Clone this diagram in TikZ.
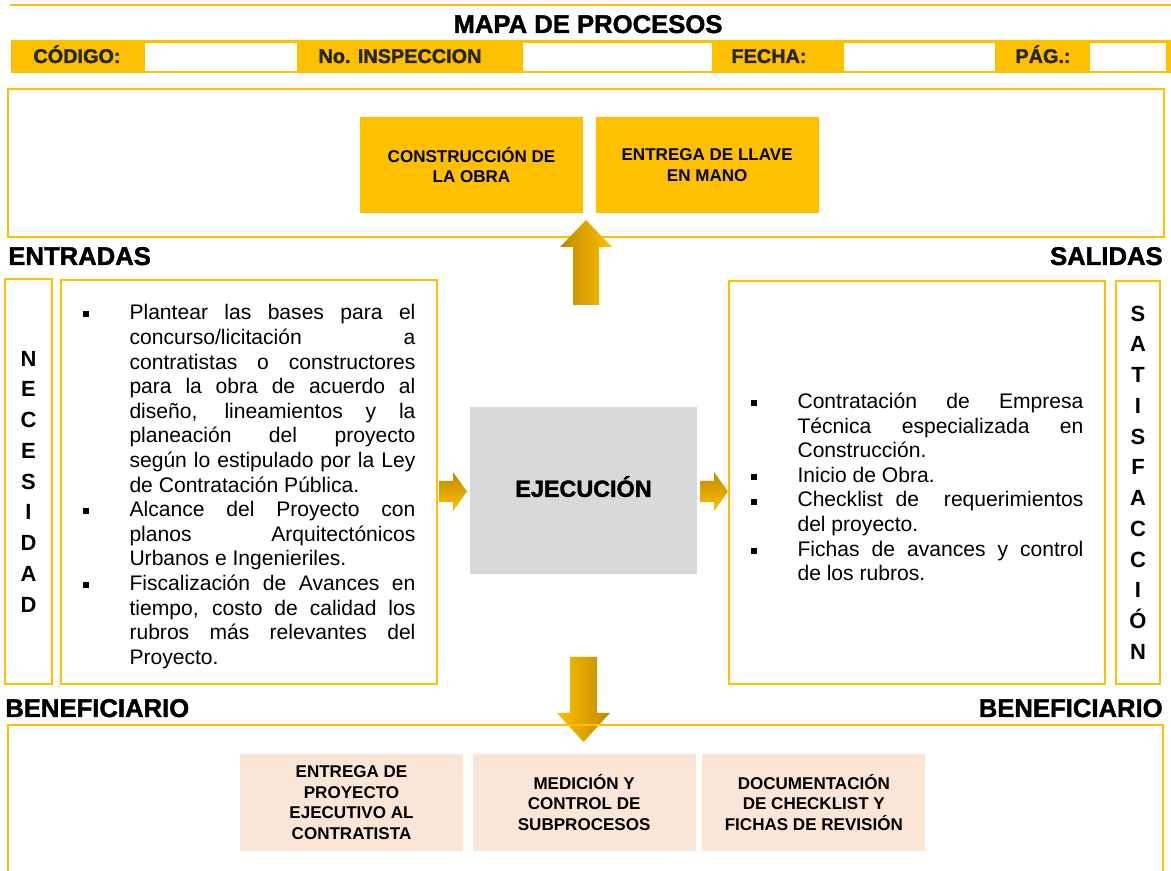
\documentclass[tikz,border=0pt]{standalone}
\usepackage{fontspec}
\setmainfont{Liberation Sans}
\newfontfamily\gruesa[BoldFeatures={FakeBold=1.6}]{Liberation Sans}
\usepackage{enumitem}
\usepackage{tikz}
\usetikzlibrary{positioning}

\definecolor{oro}{HTML}{FFC000}
\definecolor{oroOscuro}{HTML}{BF8A00}
\definecolor{gris}{HTML}{D9D9D9}
\definecolor{durazno}{HTML}{FBE5D6}
\definecolor{tinta}{HTML}{262626}

\tolerance=10000
\hbadness=10000
\hyphenpenalty=10000
\newcommand{\vineta}{\rule[1.4pt]{3.4pt}{3.4pt}}
\setlist[itemize]{nosep,leftmargin=0.94cm,labelwidth=0.94cm,labelsep=0pt,align=left,label=\vineta}

\begin{document}
\begin{tikzpicture}
	[   x=0.02cm, y=-0.02cm,
	    marco/.style={draw=oro,line width=1.3pt,inner sep=0pt},
	    titulo/.style={inner sep=0pt,font=\gruesa\bfseries\fontsize{14.6}{16}\selectfont},
	    cabecera/.style={inner sep=0pt,anchor=base,text=tinta,font=\gruesa\bfseries\fontsize{11.3}{13}\selectfont},
	    proceso/.style={fill=#1,minimum width=4.46cm,minimum height=1.93cm,align=center,
	        font=\bfseries\fontsize{9.7}{11.7}\selectfont},
	    letras/.style={align=center,font=\bfseries\fontsize{12.5}{17.5}\selectfont},
	    lista/.style={text width=6.66cm,align=justify,font=\fontsize{12}{14}\selectfont},
	]
	\useasboundingbox (0,0) rectangle (1171,871);
	
	% encabezado
	\draw[oro,line width=0.6pt] (10,5) -- (1171,5);
	\node[titulo,anchor=base] (mapa) at (588,33) {MAPA DE PROCESOS};
	\fill[oro] (11,40) rectangle (1171,73.5);
	\foreach \a/\b in {145/297,523/712,844/995,1090/1166}
		\fill[white] (\a,43) rectangle (\b,71);
	\foreach \x/\txt/\nombre in {77/CÓDIGO:/codigo,400/No. INSPECCION/insp,769/FECHA:/fecha,1043/PÁG.:/pag}
		\node[cabecera] (\nombre) at (\x,63) {\txt};
	
	% salidas del proceso
	\node[marco,minimum width=23.12cm,minimum height=2.96cm] (arriba) at (586,163) {};
	\node[proceso=oro] (obra) at (471.5,165) {CONSTRUCCIÓN DE\\LA OBRA};
	\node[proceso=oro,right=0.24cm of obra] (llave) {ENTREGA DE LLAVE\\EN MANO};
	
	\node[titulo,anchor=base west] (entradas) at (8,265) {ENTRADAS};
	\node[titulo,anchor=base east] (salidas) at (1163,265) {SALIDAS};
	
	% columnas
	\node[marco,letras,minimum width=0.94cm,minimum height=8.1cm] (nec) at (28.5,481.5)
		{N\\E\\C\\E\\S\\I\\D\\A\\D};
	\node[marco,lista,minimum width=7.52cm,minimum height=8.08cm] (ent) at (249,482) {%
		\begin{itemize}
			\item Plantear las bases para el\linebreak concurso/licitación a\linebreak
			contratistas o constructores\linebreak para la obra de acuerdo al\linebreak
			diseño, lineamientos y la\linebreak planeación del proyecto\linebreak
			según lo estipulado por la Ley\linebreak de Contratación Pública.
			\item Alcance del Proyecto con\linebreak planos Arquitectónicos\linebreak
			Urbanos e Ingenieriles.
			\item Fiscalización de Avances en\linebreak tiempo, costo de calidad los\linebreak
			rubros más relevantes del\linebreak Proyecto.
		\end{itemize}};
	\node[fill=gris,minimum width=4.54cm,minimum height=3.34cm,text height=0.72em,text depth=0pt,
		font=\gruesa\bfseries\fontsize{13.3}{16}\selectfont] (ejec) at (583.5,490.5) {EJECUCIÓN};
	\node[marco,lista,minimum width=7.52cm,minimum height=8.06cm] (sal) at (917,482.5) {%
		\begin{itemize}
			\item Contratación de Empresa\linebreak Técnica especializada en\linebreak
			Construcción.
			\item Inicio de Obra.
			\item Checklist de\ \ requerimientos\linebreak del proyecto.
			\item Fichas de avances y control\linebreak de los rubros.
		\end{itemize}};
	\node[marco,letras,minimum width=0.88cm,minimum height=8.06cm] (sat) at (1138,482.5)
		{S\\A\\T\\I\\S\\F\\A\\C\\C\\I\\Ó\\N};
	
	% flechas
	\shade[left color=oroOscuro,right color=oro]
		(573,305) -- (573,247) -- (560,247) -- (586,220) -- (612,247) -- (599,247) -- (599,305) -- cycle;
	\shade[top color=oroOscuro,bottom color=oro]
		(439,481) -- (453,481) -- (453,472) -- (467,491.5) -- (453,511) -- (453,502) -- (439,502) -- cycle;
	\shade[top color=oroOscuro,bottom color=oro]
		(700,481) -- (714,481) -- (714,472) -- (728,491.5) -- (714,511) -- (714,502) -- (700,502) -- cycle;
	\shade[left color=oro,right color=oroOscuro]
		(570,657) -- (597,657) -- (597,713) -- (610,713) -- (583.5,742) -- (557,713) -- (570,713) -- cycle;
	
	% beneficiario
	\node[titulo,anchor=base west] (benIzq) at (5,717) {BENEFICIARIO};
	\node[titulo,anchor=base east] (benDer) at (1163,717) {BENEFICIARIO};
	\draw[oro,line width=1.3pt] (8,875) |- (1163,725) -- (1163,875);
	\node[proceso=durazno] (entrega) at (351.5,802.5) {ENTREGA DE\\PROYECTO\\EJECUTIVO AL\\CONTRATISTA};
	\node[proceso=durazno,right=0.18cm of entrega] (medicion) {MEDICIÓN Y\\CONTROL DE\\SUBPROCESOS};
	\node[proceso=durazno,right=0.12cm of medicion] (docu) {DOCUMENTACIÓN\\DE CHECKLIST Y\\FICHAS DE REVISIÓN};
\end{tikzpicture}
\end{document}
